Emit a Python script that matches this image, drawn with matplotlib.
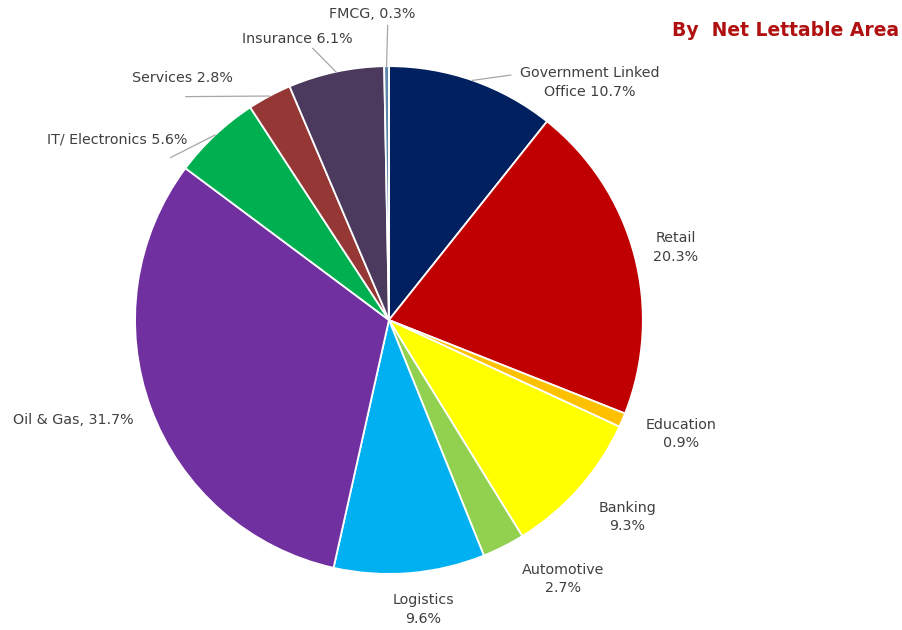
import matplotlib
matplotlib.use("Agg")
import matplotlib.pyplot as plt
import numpy as np

# tenant mix by net lettable area (%), clockwise from 12 o'clock
sectors = ["Government Linked\nOffice", "Retail", "Education", "Banking", "Automotive",
           "Logistics", "Oil & Gas", "IT/ Electronics", "Services", "Insurance", "FMCG"]
shares = [10.7, 20.3, 0.9, 9.3, 2.7, 9.6, 31.7, 5.6, 2.8, 6.1, 0.3]
label_fmt = ["{} {}%", "{}\n{}%", "{}\n{}%", "{}\n{}%", "{}\n{}%",
             "{}\n{}%", "{}, {}%", "{} {}%", "{} {}%", "{} {}%", "{}, {}%"]
colors = ["#002060", "#C00000", "#FFC000", "#FFFF00", "#92D050",
          "#00B0F0", "#7030A0", "#00B050", "#953735", "#4B3A5E", "#5B87A8"]

# label placement (pie radius = 1) and whether a leader line is drawn
label_pos = [(0.79, 0.935), (1.13, 0.285), (1.15, -0.45), (0.94, -0.775), (0.685, -1.02),
             (0.135, -1.14), (-1.245, -0.395), (-1.07, 0.71), (-0.815, 0.955),
             (-0.36, 1.105), (-0.065, 1.205)]
leader = [True, False, False, False, False, False, False, True, True, True, True]
leader_start = [(0.48, 0.965), None, None, None, None, None, None,
                (-0.86, 0.64), (-0.80, 0.88), (-0.30, 1.07), (-0.005, 1.16)]

fig = plt.figure(figsize=(9.02, 6.3), dpi=100)
ax = fig.add_axes([0.1497, 0.089, 0.563, 0.806])
wedges, _ = ax.pie(shares, colors=colors, startangle=90, counterclock=False,
                   wedgeprops=dict(edgecolor="white", linewidth=1.3))
ax.set_xlim(-1, 1)
ax.set_ylim(-1, 1)
ax.set_aspect("equal")
ax.axis("off")

for i, w in enumerate(wedges):
    txt = label_fmt[i].format(sectors[i], shares[i])
    x, y = label_pos[i]
    ax.text(x, y, txt, ha="center", va="center", fontsize=10.3, color="#404040",
            family="DejaVu Sans", linespacing=1.4)
    if leader[i]:
        ang = np.deg2rad((w.theta1 + w.theta2) / 2)
        ex, ey = np.cos(ang), np.sin(ang)
        sx, sy = leader_start[i]
        ax.plot([sx, ex], [sy, ey], color="#A6A6A6", lw=0.9, clip_on=False)

fig.text(0.997, 0.952, "By  Net Lettable Area", ha="right", va="center",
         fontsize=13.5, fontweight="bold", color="#B01010", family="DejaVu Sans")

fig.savefig("out.png", dpi=100)
